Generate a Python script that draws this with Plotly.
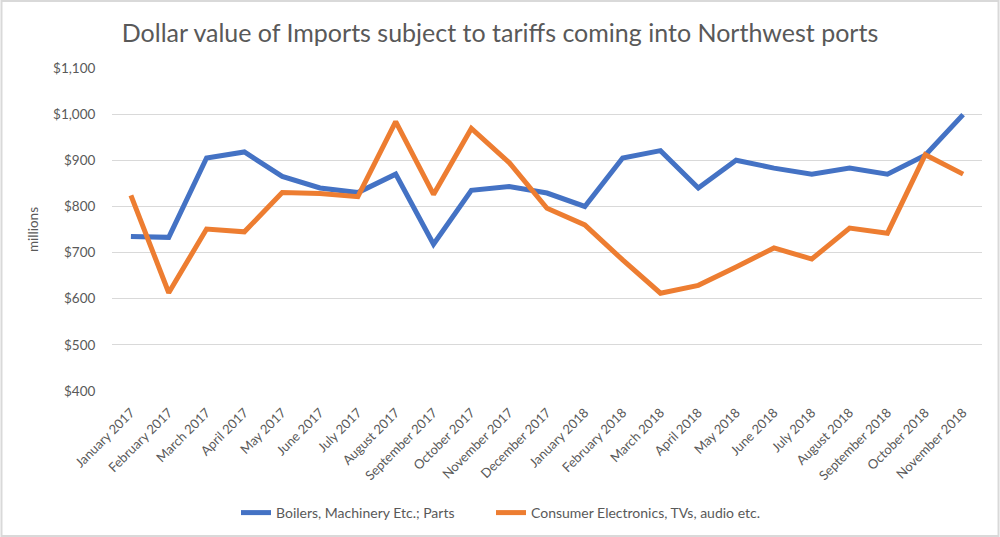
import plotly.graph_objects as go

months = ["January 2017", "February 2017", "March 2017", "April 2017", "May 2017", "June 2017",
          "July 2017", "August 2017", "September 2017", "October 2017", "November 2017",
          "December 2017", "January 2018", "February 2018", "March 2018", "April 2018",
          "May 2018", "June 2018", "July 2018", "August 2018", "September 2018",
          "October 2018", "November 2018"]

boilers = [735, 733, 905, 918, 865, 840, 830, 870, 718, 835, 843, 829, 800, 905, 921,
           840, 900, 883, 870, 883, 870, 911, 999]
electronics = [824, 613, 751, 745, 830, 828, 821, 984, 826, 969, 895, 796, 760, 684, 612,
               629, 669, 710, 686, 753, 742, 912, 870]

y_ticks = [400, 500, 600, 700, 800, 900, 1000, 1100]
y_tick_text = ["$400", "$500", "$600", "$700", "$800", "$900", "$1,000", "$1,100"]

FONT = "Lato"
GRAY = "#595959"

fig = go.Figure()
fig.add_trace(go.Scatter(x=months, y=boilers, mode="lines", name="Boilers, Machinery Etc.; Parts",
                         line=dict(color="#4472C4", width=5), legend="legend"))
fig.add_trace(go.Scatter(x=months, y=electronics, mode="lines",
                         name="Consumer Electronics, TVs, audio etc.",
                         line=dict(color="#ED7D31", width=5), legend="legend2"))

legend_style = dict(orientation="h", xanchor="left", xref="container", yref="container",
                    y=1 - 513 / 537, yanchor="middle",
                    font=dict(size=14, color=GRAY), itemwidth=30,
                    bgcolor="rgba(0,0,0,0)")

fig.update_layout(
    width=1000, height=537,
    paper_bgcolor="white", plot_bgcolor="white",
    margin=dict(l=112, r=18, t=68, b=146),
    font=dict(family=FONT, color=GRAY, size=13),
    title=dict(text="Dollar value of Imports subject to tariffs coming into Northwest ports",
               x=0.5, xanchor="center", y=1 - 33 / 537, yanchor="middle",
               xref="container", yref="container",
               font=dict(size=25, color=GRAY, family=FONT)),
    xaxis=dict(tickangle=-45, showgrid=False, showline=False,
               ticks="outside", ticklen=8, tickcolor="white",
               range=[-0.5, len(months) - 0.5], automargin=False,
               tickfont=dict(size=13, color=GRAY)),
    yaxis=dict(range=[400, 1100], tickvals=y_ticks, ticktext=y_tick_text,
               showgrid=True, gridcolor="#D9D9D9", gridwidth=1, zeroline=False,
               ticks="outside", ticklen=13, tickcolor="white", showline=False,
               automargin=False,
               tickfont=dict(size=13.5, color=GRAY),
               title=dict(text="millions", font=dict(size=13.5, color=GRAY), standoff=11)),
    legend=dict(x=0.236, **legend_style),
    legend2=dict(x=0.491, **legend_style),
    showlegend=True,
)

fig.add_shape(type="rect", xref="paper", yref="paper",
              x0=-0.127, x1=1.019, y0=-0.4489, y1=1.2074,
              line=dict(color="#D9D9D9", width=2), fillcolor="rgba(0,0,0,0)", layer="below")

fig.write_html("out.html", config={"displayModeBar": False},
               post_script="document.body.style.margin='0';")
